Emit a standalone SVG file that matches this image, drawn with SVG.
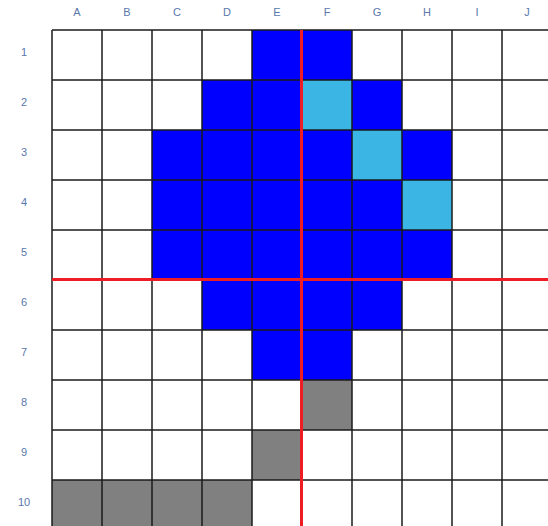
<svg xmlns="http://www.w3.org/2000/svg" width="548" height="526" viewBox="0 0 548 526">
<style>
.lbl{font-family:"Liberation Sans",Arial,sans-serif;font-size:11px;fill:#5878ac;text-anchor:middle}
.c{stroke:#1a1a1a;stroke-width:1.5}
.w{fill:#ffffff}
.b{fill:#0000ff}
.l{fill:#3bb6e4}
.g{fill:#808080}
.red{stroke:#ee1c24;stroke-width:3}
</style>
<rect width="548" height="526" fill="#ffffff"/>
<g id="col-labels">
<text class="lbl" x="77" y="16">A</text><text class="lbl" x="127" y="16">B</text><text class="lbl" x="177" y="16">C</text><text class="lbl" x="227" y="16">D</text><text class="lbl" x="277" y="16">E</text><text class="lbl" x="327" y="16">F</text><text class="lbl" x="377" y="16">G</text><text class="lbl" x="427" y="16">H</text><text class="lbl" x="477" y="16">I</text><text class="lbl" x="527" y="16">J</text>
</g>
<g id="row-labels">
<text class="lbl" x="24" y="56">1</text><text class="lbl" x="24" y="106">2</text><text class="lbl" x="24" y="156">3</text><text class="lbl" x="24" y="206">4</text><text class="lbl" x="24" y="256">5</text><text class="lbl" x="24" y="306">6</text><text class="lbl" x="24" y="356">7</text><text class="lbl" x="24" y="406">8</text><text class="lbl" x="24" y="456">9</text><text class="lbl" x="24" y="506">10</text>
</g>
<g id="cells">
<rect class="w" x="52" y="30" width="500" height="500"/>
<rect class="b" x="252" y="30" width="50" height="50"/><rect class="b" x="302" y="30" width="50" height="50"/>
<rect class="b" x="202" y="80" width="50" height="50"/><rect class="b" x="252" y="80" width="50" height="50"/><rect class="l" x="302" y="80" width="50" height="50"/><rect class="b" x="352" y="80" width="50" height="50"/>
<rect class="b" x="152" y="130" width="200" height="50"/><rect class="l" x="352" y="130" width="50" height="50"/><rect class="b" x="402" y="130" width="50" height="50"/>
<rect class="b" x="152" y="180" width="250" height="50"/><rect class="l" x="402" y="180" width="50" height="50"/>
<rect class="b" x="152" y="230" width="300" height="50"/>
<rect class="b" x="202" y="280" width="200" height="50"/>
<rect class="b" x="252" y="330" width="100" height="50"/>
<rect class="g" x="302" y="380" width="50" height="50"/>
<rect class="g" x="252" y="430" width="50" height="50"/>
<rect class="g" x="52" y="480" width="200" height="50"/>
</g>
<g id="grid" class="c">
<line x1="52" y1="30" x2="52" y2="526"/><line x1="102" y1="30" x2="102" y2="526"/><line x1="152" y1="30" x2="152" y2="526"/><line x1="202" y1="30" x2="202" y2="526"/><line x1="252" y1="30" x2="252" y2="526"/><line x1="302" y1="30" x2="302" y2="526"/><line x1="352" y1="30" x2="352" y2="526"/><line x1="402" y1="30" x2="402" y2="526"/><line x1="452" y1="30" x2="452" y2="526"/><line x1="502" y1="30" x2="502" y2="526"/>
<line x1="52" y1="30" x2="548" y2="30"/><line x1="52" y1="80" x2="548" y2="80"/><line x1="52" y1="130" x2="548" y2="130"/><line x1="52" y1="180" x2="548" y2="180"/><line x1="52" y1="230" x2="548" y2="230"/><line x1="52" y1="280" x2="548" y2="280"/><line x1="52" y1="330" x2="548" y2="330"/><line x1="52" y1="380" x2="548" y2="380"/><line x1="52" y1="430" x2="548" y2="430"/><line x1="52" y1="480" x2="548" y2="480"/>
</g>
<g id="connectors">
<line class="red" x1="301.5" y1="30" x2="301.5" y2="526"/>
<line class="red" x1="52" y1="279.5" x2="548" y2="279.5"/>
</g>
</svg>
